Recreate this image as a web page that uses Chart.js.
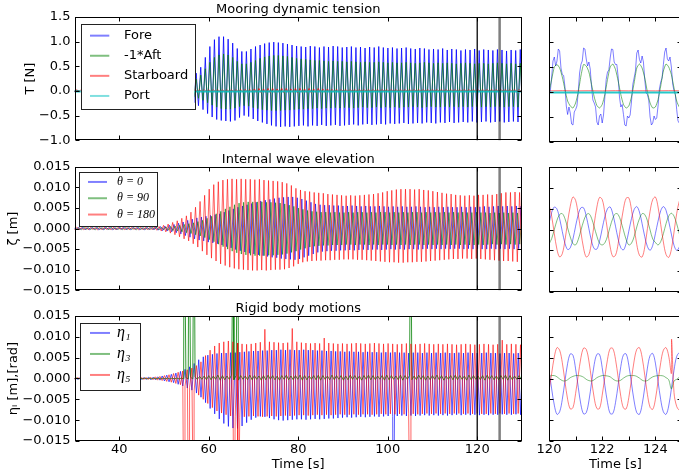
<!DOCTYPE html>
<html><head><meta charset="utf-8">
<script src="https://cdn.jsdelivr.net/npm/chart.js@4/dist/chart.umd.min.js"></script>
<style>
html,body{margin:0;padding:0;background:#fff;overflow:hidden;width:679px;height:476px;position:relative;}
canvas{position:absolute;}
</style></head><body>
<canvas id="t1" width="530" height="152" style="left:0;top:0"></canvas>
<canvas id="t2" width="160" height="152" style="left:530px;top:0"></canvas>
<canvas id="m1" width="530" height="152" style="left:0;top:150px"></canvas>
<canvas id="m2" width="160" height="152" style="left:530px;top:150px"></canvas>
<canvas id="b1" width="530" height="177" style="left:0;top:299px"></canvas>
<canvas id="b2" width="160" height="177" style="left:530px;top:299px"></canvas>
<script>
// ---------------- DATA ----------------
// Left panels: one peak and one trough value per oscillation cycle (period ~1.02 s).
const PERIOD = 1.02;
const CYCLE_START = 29.2;
const leftTimeTicks = [40, 60, 80, 100, 120];
const zoomTimeTicks = [120, 121, 122, 123, 124, 125];
const tensionTicks = [-1.0, -0.5, 0.0, 0.5, 1.0, 1.5];
const smallTicks = [-0.015, -0.010, -0.005, 0.0, 0.005, 0.010, 0.015];
const zoomWindow = [120, 125];

// Mooring dynamic tension [N]
const forePeaks = [
0.02,0.01,0.01,0.01,0.01,0.01,0.01,0.01,0.01,0.01,
0.01,0.01,0.01,0.01,0.01,0.01,0.01,0.01,0.02,0.02,
0.02,0.03,0.05,0.08,0.12,0.18,0.26,0.36,0.48,0.68,
0.90,1.04,1.10,1.10,1.05,0.97,0.86,0.80,0.80,0.85,
0.90,0.93,0.96,0.98,0.99,0.98,0.97,0.95,0.93,0.91,
0.90,0.89,0.91,0.90,0.88,0.90,0.89,0.91,0.90,0.88,
0.89,0.90,0.88,0.89,0.87,0.89,0.88,0.90,0.88,0.87,
0.88,0.86,0.87,0.88,0.86,0.85,0.87,0.86,0.84,0.85,
0.84,0.86,0.83,0.85,0.84,0.82,0.84,0.83,0.85,0.82,
0.84,0.83,0.82,0.84,0.83,0.81,0.83,0.82,0.84,0.82];
const foreTroughs = [
-0.02,-0.01,-0.01,-0.01,-0.01,-0.01,-0.01,-0.01,-0.01,-0.01,
-0.01,-0.01,-0.01,-0.01,-0.01,-0.01,-0.01,-0.01,-0.02,-0.02,
-0.02,-0.03,-0.05,-0.08,-0.12,-0.17,-0.24,-0.30,-0.38,-0.46,
-0.53,-0.58,-0.60,-0.61,-0.62,-0.60,-0.54,-0.50,-0.52,-0.57,
-0.61,-0.64,-0.67,-0.70,-0.72,-0.73,-0.72,-0.73,-0.72,-0.71,
-0.70,-0.72,-0.70,-0.71,-0.69,-0.71,-0.70,-0.69,-0.71,-0.70,
-0.69,-0.68,-0.70,-0.68,-0.67,-0.69,-0.68,-0.67,-0.68,-0.66,
-0.67,-0.66,-0.65,-0.67,-0.66,-0.65,-0.66,-0.64,-0.65,-0.66,
-0.64,-0.65,-0.63,-0.65,-0.64,-0.63,-0.64,-0.62,-0.64,-0.63,
-0.62,-0.64,-0.63,-0.62,-0.64,-0.63,-0.62,-0.63,-0.62,-0.63];
const aftPeaks = [
0.01,0.01,0.01,0.01,0.01,0.01,0.01,0.01,0.01,0.01,
0.01,0.01,0.01,0.01,0.01,0.01,0.01,0.01,0.01,0.01,
0.01,0.02,0.03,0.05,0.08,0.12,0.17,0.24,0.32,0.45,
0.58,0.68,0.73,0.75,0.73,0.68,0.60,0.55,0.55,0.58,
0.62,0.66,0.69,0.71,0.72,0.72,0.71,0.70,0.68,0.66,
0.65,0.64,0.63,0.62,0.62,0.61,0.60,0.61,0.60,0.60,
0.59,0.60,0.59,0.58,0.59,0.58,0.58,0.59,0.58,0.57,
0.58,0.57,0.57,0.58,0.57,0.56,0.57,0.58,0.57,0.56,
0.57,0.56,0.57,0.56,0.55,0.56,0.57,0.56,0.55,0.56,
0.56,0.55,0.56,0.57,0.56,0.55,0.56,0.55,0.56,0.55];
const aftTroughs = [
-0.01,-0.01,-0.01,-0.01,-0.01,-0.01,-0.01,-0.01,-0.01,-0.01,
-0.01,-0.01,-0.01,-0.01,-0.01,-0.01,-0.01,-0.01,-0.01,-0.01,
-0.01,-0.02,-0.03,-0.05,-0.07,-0.09,-0.12,-0.15,-0.19,-0.24,
-0.29,-0.33,-0.36,-0.37,-0.37,-0.35,-0.32,-0.30,-0.31,-0.34,
-0.36,-0.38,-0.39,-0.40,-0.40,-0.40,-0.39,-0.39,-0.38,-0.37,
-0.37,-0.36,-0.36,-0.35,-0.36,-0.35,-0.35,-0.34,-0.35,-0.34,
-0.34,-0.35,-0.34,-0.33,-0.34,-0.34,-0.33,-0.34,-0.33,-0.34,
-0.33,-0.34,-0.33,-0.33,-0.32,-0.33,-0.34,-0.33,-0.32,-0.33,
-0.33,-0.32,-0.33,-0.32,-0.33,-0.32,-0.33,-0.32,-0.32,-0.33,
-0.32,-0.33,-0.32,-0.32,-0.33,-0.32,-0.32,-0.33,-0.32,-0.32];
const starPeaks = [
0.03,0.02,0.02,0.02,0.02,0.02,0.02,0.02,0.02,0.02,
0.02,0.02,0.02,0.02,0.02,0.02,0.02,0.02,0.02,0.02,
0.02,0.02,0.02,0.02,0.02,0.02,0.02,0.02,0.02,0.02,
0.02,0.02,0.02,0.02,0.02,0.02,0.02,0.03,0.03,0.03,
0.04,0.05,0.04,0.05,0.05,0.04,0.05,0.05,0.04,0.05,
0.05,0.04,0.05,0.04,0.05,0.04,0.04,0.03,0.03,0.02,
0.02,0.02,0.02,0.02,0.02,0.02,0.02,0.02,0.02,0.02,
0.02,0.02,0.02,0.02,0.02,0.02,0.02,0.02,0.02,0.02,
0.02,0.02,0.02,0.02,0.02,0.02,0.02,0.02,0.02,0.02,
0.02,0.02,0.02,0.02,0.02,0.02,0.02,0.02,0.02,0.02];
const starTroughs = [
-0.02,-0.01,-0.01,-0.01,-0.01,-0.01,-0.01,-0.01,-0.01,-0.01,
-0.01,-0.01,-0.01,-0.01,-0.01,-0.01,-0.01,-0.01,-0.01,-0.01,
-0.01,-0.01,-0.01,-0.01,-0.01,-0.01,-0.01,-0.01,-0.01,-0.01,
-0.01,-0.01,-0.01,-0.01,-0.01,-0.01,-0.01,-0.02,-0.02,-0.02,
-0.03,-0.04,-0.03,-0.04,-0.03,-0.03,-0.04,-0.03,-0.03,-0.04,
-0.03,-0.03,-0.04,-0.03,-0.03,-0.03,-0.02,-0.02,-0.01,0.00,
0.00,0.00,0.00,0.00,0.00,0.00,0.00,0.00,0.00,0.00,
0.00,0.00,0.00,0.00,0.00,0.00,0.00,0.00,0.00,0.00,
0.00,0.00,0.00,0.00,0.00,0.00,0.00,0.00,0.00,0.00,
0.00,0.00,0.00,0.00,0.00,0.00,0.00,0.00,0.00,0.00];
// Port tension: nearly flat, sampled every 5 s from 30 s
const portValues = [-0.010,-0.010,-0.011,-0.010,-0.012,-0.010,-0.011,-0.010,-0.012,-0.011,-0.010,-0.011,-0.012,-0.010,-0.011,-0.010,-0.012,-0.011,-0.010,-0.011,-0.010];

// Internal wave elevation [m]
const theta0Peaks = [
0.0002,0.0003,0.0003,0.0002,0.0003,0.0003,0.0002,0.0003,0.0003,0.0002,
0.0003,0.0003,0.0002,0.0003,0.0003,0.0002,0.0003,0.0003,0.0004,0.0005,
0.0006,0.0008,0.0010,0.0013,0.0016,0.0020,0.0023,0.0026,0.0028,0.0030,
0.0032,0.0034,0.0036,0.0040,0.0044,0.0048,0.0052,0.0055,0.0058,0.0061,
0.0064,0.0067,0.0069,0.0071,0.0073,0.0075,0.0076,0.0077,0.0077,0.0075,
0.0072,0.0068,0.0064,0.0060,0.0058,0.0057,0.0057,0.0056,0.0056,0.0055,
0.0055,0.0056,0.0055,0.0054,0.0055,0.0054,0.0054,0.0055,0.0054,0.0053,
0.0054,0.0053,0.0054,0.0053,0.0053,0.0054,0.0053,0.0052,0.0053,0.0052,
0.0053,0.0052,0.0053,0.0052,0.0052,0.0053,0.0052,0.0053,0.0052,0.0053,
0.0054,0.0053,0.0054,0.0055,0.0054,0.0055,0.0054,0.0055,0.0054,0.0055];
const theta0Troughs = [
-0.0003,-0.0002,-0.0003,-0.0003,-0.0002,-0.0003,-0.0003,-0.0002,-0.0003,-0.0003,
-0.0002,-0.0003,-0.0003,-0.0002,-0.0003,-0.0003,-0.0002,-0.0003,-0.0004,-0.0005,
-0.0006,-0.0008,-0.0010,-0.0013,-0.0017,-0.0021,-0.0025,-0.0028,-0.0030,-0.0033,
-0.0035,-0.0037,-0.0040,-0.0044,-0.0047,-0.0051,-0.0054,-0.0057,-0.0060,-0.0062,
-0.0064,-0.0066,-0.0068,-0.0070,-0.0071,-0.0073,-0.0074,-0.0075,-0.0076,-0.0074,
-0.0070,-0.0066,-0.0062,-0.0058,-0.0056,-0.0055,-0.0054,-0.0054,-0.0053,-0.0053,
-0.0052,-0.0053,-0.0052,-0.0051,-0.0052,-0.0051,-0.0051,-0.0052,-0.0051,-0.0050,
-0.0051,-0.0050,-0.0051,-0.0050,-0.0050,-0.0051,-0.0050,-0.0049,-0.0050,-0.0049,
-0.0050,-0.0049,-0.0050,-0.0049,-0.0049,-0.0050,-0.0049,-0.0050,-0.0049,-0.0050,
-0.0050,-0.0049,-0.0050,-0.0049,-0.0050,-0.0049,-0.0050,-0.0049,-0.0050,-0.0049];
const theta90Peaks = [
0.0002,0.0002,0.0003,0.0002,0.0002,0.0003,0.0002,0.0002,0.0003,0.0002,
0.0002,0.0003,0.0002,0.0002,0.0003,0.0002,0.0002,0.0003,0.0003,0.0003,
0.0004,0.0005,0.0006,0.0008,0.0010,0.0012,0.0014,0.0017,0.0020,0.0025,
0.0030,0.0036,0.0042,0.0048,0.0053,0.0058,0.0062,0.0064,0.0065,0.0065,
0.0065,0.0065,0.0064,0.0064,0.0063,0.0062,0.0060,0.0057,0.0054,0.0050,
0.0047,0.0044,0.0042,0.0041,0.0040,0.0040,0.0039,0.0040,0.0039,0.0039,
0.0040,0.0039,0.0040,0.0040,0.0039,0.0040,0.0039,0.0040,0.0040,0.0039,
0.0040,0.0039,0.0040,0.0039,0.0040,0.0040,0.0039,0.0040,0.0039,0.0040,
0.0039,0.0040,0.0039,0.0040,0.0039,0.0040,0.0039,0.0039,0.0040,0.0039,
0.0039,0.0038,0.0039,0.0038,0.0039,0.0038,0.0039,0.0038,0.0039,0.0038];
const theta90Troughs = [
-0.0002,-0.0003,-0.0002,-0.0002,-0.0003,-0.0002,-0.0002,-0.0003,-0.0002,-0.0002,
-0.0003,-0.0002,-0.0002,-0.0003,-0.0002,-0.0002,-0.0003,-0.0002,-0.0003,-0.0003,
-0.0004,-0.0005,-0.0006,-0.0008,-0.0010,-0.0012,-0.0015,-0.0018,-0.0022,-0.0027,
-0.0032,-0.0038,-0.0044,-0.0050,-0.0055,-0.0059,-0.0062,-0.0064,-0.0065,-0.0066,
-0.0066,-0.0066,-0.0065,-0.0065,-0.0064,-0.0063,-0.0061,-0.0058,-0.0055,-0.0051,
-0.0048,-0.0045,-0.0043,-0.0042,-0.0041,-0.0041,-0.0040,-0.0040,-0.0040,-0.0039,
-0.0039,-0.0040,-0.0039,-0.0039,-0.0040,-0.0039,-0.0040,-0.0039,-0.0039,-0.0040,
-0.0039,-0.0040,-0.0039,-0.0040,-0.0039,-0.0039,-0.0040,-0.0039,-0.0040,-0.0039,
-0.0040,-0.0039,-0.0040,-0.0039,-0.0040,-0.0039,-0.0040,-0.0040,-0.0039,-0.0040,
-0.0039,-0.0038,-0.0039,-0.0038,-0.0039,-0.0038,-0.0039,-0.0038,-0.0039,-0.0038];
const theta180Peaks = [
0.0003,0.0003,0.0002,0.0003,0.0003,0.0002,0.0003,0.0003,0.0002,0.0003,
0.0003,0.0002,0.0003,0.0003,0.0002,0.0003,0.0003,0.0003,0.0004,0.0005,
0.0008,0.0011,0.0015,0.0019,0.0025,0.0031,0.0040,0.0052,0.0066,0.0081,
0.0096,0.0107,0.0114,0.0118,0.0120,0.0121,0.0120,0.0121,0.0120,0.0120,
0.0119,0.0120,0.0118,0.0117,0.0116,0.0115,0.0113,0.0110,0.0105,0.0098,
0.0094,0.0091,0.0090,0.0088,0.0087,0.0086,0.0084,0.0083,0.0082,0.0081,
0.0080,0.0081,0.0080,0.0081,0.0082,0.0083,0.0084,0.0086,0.0088,0.0091,
0.0093,0.0095,0.0096,0.0096,0.0096,0.0095,0.0096,0.0094,0.0093,0.0091,
0.0089,0.0087,0.0085,0.0084,0.0082,0.0081,0.0080,0.0081,0.0080,0.0082,
0.0082,0.0083,0.0082,0.0084,0.0086,0.0088,0.0088,0.0089,0.0088,0.0089];
const theta180Troughs = [
-0.0003,-0.0002,-0.0003,-0.0003,-0.0002,-0.0003,-0.0003,-0.0002,-0.0003,-0.0003,
-0.0002,-0.0003,-0.0003,-0.0002,-0.0003,-0.0003,-0.0003,-0.0003,-0.0004,-0.0006,
-0.0008,-0.0011,-0.0015,-0.0020,-0.0025,-0.0030,-0.0037,-0.0045,-0.0055,-0.0064,
-0.0072,-0.0079,-0.0086,-0.0090,-0.0094,-0.0097,-0.0099,-0.0100,-0.0101,-0.0102,
-0.0102,-0.0101,-0.0102,-0.0101,-0.0100,-0.0100,-0.0099,-0.0096,-0.0092,-0.0086,
-0.0082,-0.0080,-0.0079,-0.0078,-0.0078,-0.0077,-0.0077,-0.0076,-0.0076,-0.0075,
-0.0075,-0.0075,-0.0076,-0.0076,-0.0077,-0.0078,-0.0079,-0.0080,-0.0081,-0.0082,
-0.0082,-0.0083,-0.0083,-0.0082,-0.0082,-0.0081,-0.0081,-0.0080,-0.0079,-0.0078,
-0.0077,-0.0076,-0.0075,-0.0074,-0.0074,-0.0073,-0.0073,-0.0074,-0.0073,-0.0074,
-0.0075,-0.0076,-0.0077,-0.0078,-0.0079,-0.0079,-0.0080,-0.0081,-0.0080,-0.0081];

// Rigid body motions [m],[rad]
const eta1Peaks = [
0.0002,0.0001,0.0002,0.0002,0.0001,0.0002,0.0002,0.0001,0.0002,0.0002,
0.0001,0.0002,0.0002,0.0001,0.0002,0.0002,0.0002,0.0003,0.0003,0.0004,
0.0006,0.0008,0.0010,0.0013,0.0017,0.0022,0.0028,0.0036,0.0045,0.0052,
0.0056,0.0058,0.0060,0.0061,0.0061,0.0062,0.0062,0.0063,0.0064,0.0065,
0.0066,0.0066,0.0067,0.0067,0.0068,0.0068,0.0069,0.0068,0.0069,0.0068,
0.0068,0.0069,0.0068,0.0068,0.0067,0.0067,0.0066,0.0066,0.0065,0.0065,
0.0064,0.0065,0.0064,0.0064,0.0063,0.0064,0.0063,0.0063,0.0062,0.0063,
0.0062,0.0063,0.0062,0.0062,0.0061,0.0062,0.0062,0.0061,0.0062,0.0061,
0.0062,0.0061,0.0062,0.0061,0.0061,0.0062,0.0061,0.0062,0.0061,0.0061,
0.0061,0.0062,0.0061,0.0061,0.0060,0.0061,0.0061,0.0060,0.0061,0.0060];
const eta1Troughs = [
-0.0002,-0.0002,-0.0001,-0.0002,-0.0002,-0.0001,-0.0002,-0.0002,-0.0001,-0.0002,
-0.0002,-0.0001,-0.0002,-0.0002,-0.0001,-0.0002,-0.0002,-0.0003,-0.0003,-0.0004,
-0.0006,-0.0008,-0.0010,-0.0014,-0.0018,-0.0023,-0.0028,-0.0035,-0.0045,-0.0058,
-0.0072,-0.0085,-0.0097,-0.0108,-0.0115,-0.0119,-0.0120,-0.0114,-0.0106,-0.0099,
-0.0094,-0.0091,-0.0092,-0.0095,-0.0098,-0.0100,-0.0101,-0.0100,-0.0099,-0.0098,
-0.0098,-0.0099,-0.0098,-0.0097,-0.0098,-0.0097,-0.0096,-0.0096,-0.0095,-0.0094,
-0.0093,-0.0094,-0.0093,-0.0092,-0.0093,-0.0092,-0.0091,-0.0092,-0.0091,-0.0090,
-0.0091,-0.0090,-0.0089,-0.0090,-0.0089,-0.0090,-0.0089,-0.0088,-0.0089,-0.0088,
-0.0089,-0.0088,-0.0089,-0.0088,-0.0087,-0.0088,-0.0087,-0.0088,-0.0087,-0.0088,
-0.0087,-0.0088,-0.0087,-0.0087,-0.0086,-0.0087,-0.0087,-0.0086,-0.0087,-0.0086];
const eta3Peaks = [
0.0001,0.0001,0.0001,0.0001,0.0001,0.0001,0.0001,0.0001,0.0001,0.0001,
0.0001,0.0001,0.0001,0.0001,0.0001,0.0001,0.0001,0.0001,0.0001,0.0001,
0.0001,0.0001,0.0001,0.0001,0.0001,0.0002,0.0003,0.0004,0.0005,0.0006,
0.0007,0.0006,0.0008,0.0007,0.0006,0.0008,0.0007,0.0007,0.0006,0.0008,
0.0007,0.0006,0.0007,0.0008,0.0007,0.0006,0.0007,0.0008,0.0006,0.0007,
0.0008,0.0007,0.0006,0.0007,0.0008,0.0007,0.0006,0.0008,0.0007,0.0007,
0.0006,0.0008,0.0007,0.0006,0.0007,0.0008,0.0007,0.0006,0.0007,0.0008,
0.0007,0.0006,0.0008,0.0007,0.0007,0.0006,0.0008,0.0007,0.0006,0.0007,
0.0008,0.0007,0.0006,0.0007,0.0008,0.0007,0.0006,0.0008,0.0007,0.0006,
0.0007,0.0008,0.0007,0.0006,0.0007,0.0008,0.0007,0.0006,0.0007,0.0008];
const eta3Troughs = [
-0.0001,-0.0001,-0.0001,-0.0001,-0.0001,-0.0001,-0.0001,-0.0001,-0.0001,-0.0001,
-0.0001,-0.0001,-0.0001,-0.0001,-0.0001,-0.0001,-0.0001,-0.0001,-0.0001,-0.0001,
-0.0001,-0.0001,-0.0001,-0.0001,-0.0001,-0.0001,-0.0001,-0.0002,-0.0002,-0.0003,
-0.0003,-0.0002,-0.0004,-0.0003,-0.0002,-0.0003,-0.0004,-0.0002,-0.0003,-0.0003,
-0.0002,-0.0004,-0.0003,-0.0002,-0.0003,-0.0004,-0.0002,-0.0003,-0.0003,-0.0002,
-0.0004,-0.0003,-0.0002,-0.0003,-0.0004,-0.0002,-0.0003,-0.0003,-0.0002,-0.0004,
-0.0003,-0.0002,-0.0003,-0.0004,-0.0002,-0.0003,-0.0003,-0.0002,-0.0004,-0.0003,
-0.0002,-0.0003,-0.0004,-0.0002,-0.0003,-0.0003,-0.0002,-0.0004,-0.0003,-0.0002,
-0.0003,-0.0004,-0.0002,-0.0003,-0.0003,-0.0002,-0.0004,-0.0003,-0.0002,-0.0003,
-0.0004,-0.0002,-0.0003,-0.0003,-0.0002,-0.0004,-0.0003,-0.0002,-0.0003,-0.0004];
const eta5Peaks = [
0.0002,0.0002,0.0001,0.0002,0.0002,0.0001,0.0002,0.0002,0.0001,0.0002,
0.0002,0.0001,0.0002,0.0002,0.0001,0.0002,0.0002,0.0003,0.0004,0.0005,
0.0007,0.0009,0.0012,0.0015,0.0018,0.0021,0.0025,0.0031,0.0040,0.0055,
0.0068,0.0078,0.0085,0.0088,0.0090,0.0088,0.0085,0.0083,0.0082,0.0083,
0.0085,0.0087,0.0118,0.0088,0.0087,0.0086,0.0085,0.0086,0.0120,0.0088,
0.0086,0.0085,0.0084,0.0085,0.0084,0.0097,0.0085,0.0084,0.0083,0.0084,
0.0083,0.0084,0.0085,0.0084,0.0083,0.0084,0.0085,0.0084,0.0083,0.0084,
0.0083,0.0082,0.0083,0.0084,0.0083,0.0082,0.0083,0.0084,0.0083,0.0082,
0.0083,0.0082,0.0083,0.0082,0.0081,0.0082,0.0083,0.0082,0.0081,0.0082,
0.0083,0.0082,0.0081,0.0082,0.0092,0.0082,0.0083,0.0082,0.0081,0.0082];
const eta5Troughs = [
-0.0002,-0.0001,-0.0002,-0.0002,-0.0001,-0.0002,-0.0002,-0.0001,-0.0002,-0.0002,
-0.0001,-0.0002,-0.0002,-0.0001,-0.0002,-0.0002,-0.0002,-0.0003,-0.0004,-0.0005,
-0.0007,-0.0009,-0.0012,-0.0015,-0.0018,-0.0022,-0.0030,-0.0040,-0.0050,-0.0060,
-0.0070,-0.0078,-0.0083,-0.0087,-0.0090,-0.0092,-0.0093,-0.0092,-0.0091,-0.0090,
-0.0091,-0.0092,-0.0091,-0.0090,-0.0091,-0.0090,-0.0089,-0.0090,-0.0089,-0.0088,
-0.0088,-0.0089,-0.0088,-0.0087,-0.0088,-0.0087,-0.0088,-0.0087,-0.0086,-0.0087,
-0.0087,-0.0086,-0.0087,-0.0086,-0.0086,-0.0087,-0.0086,-0.0085,-0.0086,-0.0085,
-0.0086,-0.0085,-0.0086,-0.0085,-0.0085,-0.0086,-0.0085,-0.0084,-0.0085,-0.0084,
-0.0085,-0.0084,-0.0085,-0.0084,-0.0084,-0.0085,-0.0084,-0.0085,-0.0084,-0.0085,
-0.0085,-0.0084,-0.0085,-0.0084,-0.0085,-0.0084,-0.0085,-0.0084,-0.0085,-0.0084];
// glitch spikes (time [s], value) that leave the axis range
const eta1SpikeTimes = [101.2];
const eta1SpikeValues = [-0.05];
const eta3SpikeTimes = [54.5, 55.6, 56.7, 65.6, 66.5, 105.1];
const eta3SpikeValues = [0.05, 0.05, 0.05, 0.05, 0.05, 0.05];
const eta5SpikeTimes = [54.5, 55.6, 56.7, 65.6, 66.5, 105.1];
const eta5SpikeValues = [-0.05, -0.05, -0.05, -0.05, -0.05, -0.05];

// Right panels: samples from 120.0 s to 125.0 s
const ZOOM_START = 120.0, ZOOM_STEP = 0.1, FORE_STEP = 0.05;
const foreZoom = [
-0.05,0.02,0.30,0.62,0.70,0.52,0.62,0.86,0.82,0.48,
0.35,0.33,0.10,-0.28,-0.45,-0.30,-0.42,-0.64,-0.66,-0.40,
-0.35,-0.28,0.00,0.38,0.55,0.62,0.88,0.86,0.66,0.52,
0.60,0.46,0.10,-0.16,-0.22,-0.30,-0.60,-0.66,-0.48,-0.44,
-0.62,-0.46,-0.10,0.25,0.40,0.44,0.68,0.86,0.85,0.60,
0.55,0.55,0.30,-0.10,-0.30,-0.25,-0.45,-0.66,-0.68,-0.48,
-0.52,-0.46,-0.20,0.15,0.28,0.42,0.78,0.84,0.65,0.58,
0.72,0.60,0.25,-0.02,-0.05,-0.16,-0.50,-0.66,-0.62,-0.48,
-0.55,-0.52,-0.28,0.06,0.20,0.28,0.55,0.80,0.88,0.66,
0.62,0.70,0.50,0.16,0.02,-0.05,-0.35,-0.58,-0.62,-0.42,-0.45];
const aftZoom = [
0.00,0.25,0.50,0.55,0.48,0.30,0.05,-0.18,-0.28,-0.32,
-0.22,0.00,0.32,0.55,0.52,0.40,0.15,-0.10,-0.27,-0.32,
-0.25,-0.05,0.25,0.50,0.56,0.45,0.22,-0.05,-0.25,-0.32,
-0.28,-0.10,0.18,0.48,0.56,0.48,0.28,0.00,-0.22,-0.32,
-0.30,-0.15,0.12,0.42,0.56,0.50,0.35,0.08,-0.18,-0.30,-0.30];
// Starboard / Port in the zoom: every 0.5 s
const starZoom = [0.022,0.026,0.022,0.025,0.022,0.026,0.023,0.025,0.022,0.026,0.023];
const portZoom = [-0.010,-0.012,-0.010,-0.011,-0.010,-0.012,-0.010,-0.011,-0.010,-0.012,-0.010];
const theta0Zoom = [
0.0014,0.0041,0.0054,0.0049,0.0026,-0.0005,-0.0033,-0.0048,-0.0044,-0.0023,
0.0008,0.0036,0.0052,0.0052,0.0032,0.0002,-0.0028,-0.0046,-0.0047,-0.0028,
0.0002,0.0031,0.0050,0.0054,0.0037,0.0008,-0.0023,-0.0044,-0.0049,-0.0033,
-0.0004,0.0026,0.0048,0.0055,0.0042,0.0014,-0.0017,-0.0041,-0.0050,-0.0038,
-0.0010,0.0020,0.0045,0.0055,0.0046,0.0020,-0.0011,-0.0038,-0.0050,-0.0042,-0.0016];
const theta90Zoom = [
-0.0035,-0.0022,0.0000,0.0022,0.0036,0.0038,0.0026,0.0004,-0.0018,-0.0034,
-0.0037,-0.0024,-0.0002,0.0020,0.0035,0.0038,0.0027,0.0006,-0.0016,-0.0033,
-0.0037,-0.0032,-0.0016,0.0007,0.0027,0.0038,0.0036,0.0020,-0.0002,-0.0024,
-0.0037,-0.0033,-0.0017,0.0006,0.0026,0.0038,0.0036,0.0021,-0.0001,-0.0023,
-0.0031,-0.0037,-0.0029,-0.0010,0.0014,0.0032,0.0039,0.0032,0.0014,-0.0010,-0.0029];
const theta180Zoom = [
0.0060,0.0032,-0.0010,-0.0048,-0.0066,-0.0058,-0.0026,0.0018,0.0056,0.0078,
0.0070,0.0036,-0.0006,-0.0045,-0.0066,-0.0060,-0.0030,0.0014,0.0054,0.0077,
0.0072,0.0040,-0.0002,-0.0042,-0.0065,-0.0062,-0.0034,0.0010,0.0050,0.0075,
0.0076,0.0048,0.0006,-0.0036,-0.0062,-0.0066,-0.0042,0.0002,0.0044,0.0072,
0.0078,0.0054,0.0012,-0.0030,-0.0060,-0.0067,-0.0048,-0.0006,0.0038,0.0068,0.0079];
const eta1Zoom = [
0.0020,-0.0025,-0.0064,-0.0086,-0.0080,-0.0050,-0.0006,0.0036,0.0059,0.0056,
0.0023,-0.0021,-0.0063,-0.0085,-0.0082,-0.0054,-0.0010,0.0034,0.0058,0.0058,
0.0026,-0.0017,-0.0058,-0.0084,-0.0084,-0.0058,-0.0015,0.0029,0.0057,0.0059,
0.0032,-0.0011,-0.0054,-0.0082,-0.0086,-0.0063,-0.0021,0.0025,0.0055,0.0060,
0.0037,-0.0007,-0.0051,-0.0080,-0.0086,-0.0066,-0.0025,0.0020,0.0053,0.0061,0.0040];
const eta3Zoom = [
0.0005,0.0007,0.0007,0.0004,-0.0001,-0.0005,-0.0006,-0.0003,0.0002,0.0005,
0.0007,0.0007,0.0006,0.0003,-0.0002,-0.0005,-0.0006,-0.0003,0.0002,0.0005,
0.0007,0.0007,0.0006,0.0004,-0.0001,-0.0005,-0.0006,-0.0004,0.0001,0.0005,
0.0007,0.0007,0.0007,0.0005,0.0001,-0.0004,-0.0006,-0.0005,0.0000,0.0004,
0.0006,0.0007,0.0007,0.0006,0.0002,-0.0003,-0.0025,-0.0006,-0.0002,0.0003,0.0006];
const eta5Zoom = [
-0.0030,0.0012,0.0052,0.0074,0.0068,0.0038,-0.0007,-0.0050,-0.0073,-0.0070,
-0.0036,0.0008,0.0050,0.0073,0.0070,0.0042,-0.0003,-0.0047,-0.0072,-0.0072,
-0.0040,0.0004,0.0046,0.0072,0.0072,0.0046,0.0002,-0.0043,-0.0071,-0.0073,
-0.0046,-0.0002,0.0042,0.0070,0.0074,0.0051,0.0008,-0.0038,-0.0069,-0.0074,
-0.0050,-0.0006,0.0038,0.0068,0.0074,0.0054,0.0012,-0.0034,-0.0067,-0.0075,-0.0053];
const eta5ZoomSpikeTimes = [124.61];
const eta5ZoomSpikeValues = [0.0094];

// ---------------- BUILDERS ----------------
function cycles(peaks, troughs, phase, spikeT, spikeV) {
  const pts = [];
  for (let k = 0; k < peaks.length; k++) {
    const t = CYCLE_START + phase + k * PERIOD;
    pts.push({ x: t, y: peaks[k] });
    pts.push({ x: t + PERIOD / 2, y: troughs[k] });
  }
  if (spikeT) { spikeT.forEach((t, i) => pts.push({ x: t, y: spikeV[i] })); pts.sort((a, b) => a.x - b.x); }
  return pts;
}
function sampled(vals, start, step, spikeT, spikeV) {
  const pts = vals.map((v, i) => ({ x: start + i * step, y: v }));
  if (spikeT) { spikeT.forEach((t, i) => pts.push({ x: t, y: spikeV[i] })); pts.sort((a, b) => a.x - b.x); }
  return pts;
}
const FONT = "'DejaVu Sans', sans-serif";
const C = {
  blue: a => `rgba(0,0,255,${a})`, green: a => `rgba(0,128,0,${a})`,
  red: a => `rgba(255,0,0,${a})`, cyan: a => `rgba(0,191,191,${a})`
};
const LA = 0.6, LEG = 0.5;
function ds(label, data, col, opts) {
  opts = opts || {};
  return { label, data, borderColor: C[col](opts.alpha || LA), borderWidth: opts.width || 1,
    pointRadius: 0, tension: opts.tension || 0, fill: false, legendColor: C[col](LEG) };
}
function withOrder(list) { list.forEach((d, i) => d.order = list.length - i); return list; }
const fmt = d => v => { const s = Math.abs(v) < 1e-12 ? (0).toFixed(d) : Number(v).toFixed(d); return s.replace('-', '\u2212'); };

const deco = {
  id: 'deco',
  afterDatasetsDraw(chart, args, o) {
    const { ctx, chartArea: a, scales } = chart;
    ctx.save();
    (o.markers || []).forEach((t, i) => {
      const px = scales.x.getPixelForValue(t);
      ctx.strokeStyle = o.markerColors[i]; ctx.lineWidth = o.markerWidths[i];
      ctx.beginPath(); ctx.moveTo(px, a.top); ctx.lineTo(px, a.bottom); ctx.stroke();
    });
    const L = Math.round(a.left) + 0.5, R = Math.round(a.right) - 0.5, T = Math.round(a.top) + 0.5, B = Math.round(a.bottom) - 0.5;
    ctx.strokeStyle = '#000'; ctx.lineWidth = 1;
    ctx.strokeRect(L, T, R - L, B - T);
    const len = 4;
    ctx.beginPath();
    scales.x.ticks.forEach(tk => { const px = Math.round(scales.x.getPixelForValue(tk.value)) + 0.5; ctx.moveTo(px, B); ctx.lineTo(px, B - len); ctx.moveTo(px, T); ctx.lineTo(px, T + len); });
    scales.y.ticks.forEach(tk => { const py = Math.round(scales.y.getPixelForValue(tk.value)) + 0.5; ctx.moveTo(L, py); ctx.lineTo(L + len, py); ctx.moveTo(R, py); ctx.lineTo(R - len, py); });
    ctx.stroke();
    const lg = o.legend;
    if (lg) {
      const x0 = a.left + lg.x, y0 = a.top + lg.y;
      ctx.fillStyle = '#fff'; ctx.fillRect(x0, y0, lg.w, lg.h);
      ctx.strokeStyle = '#222'; ctx.lineWidth = 1;
      ctx.strokeRect(Math.round(x0) + 0.5, Math.round(y0) + 0.5, Math.round(lg.w), Math.round(lg.h));
      chart.data.datasets.forEach((d, i) => {
        const yy = y0 + lg.first + i * lg.gap;
        ctx.strokeStyle = d.legendColor; ctx.lineWidth = 2;
        ctx.beginPath(); ctx.moveTo(x0 + lg.lx0, yy); ctx.lineTo(x0 + lg.lx1, yy); ctx.stroke();
        ctx.fillStyle = '#000'; ctx.font = lg.font; ctx.textBaseline = 'middle'; ctx.textAlign = 'left';
        ctx.fillText(d.label, x0 + lg.tx, yy);
      });
    }
    ctx.restore();
  }
};

function panel(id, o) {
  return new Chart(document.getElementById(id), {
    type: 'line',
    data: { datasets: withOrder(o.datasets) },
    options: {
      responsive: false, animation: false, events: [],
      layout: { padding: { top: o.title ? 0 : 17, right: 8, bottom: 0, left: 0 } },
      plugins: {
        legend: { display: false }, tooltip: { enabled: false },
        title: o.title ? { display: true, text: o.title, fullSize: false, color: '#000',
          font: { family: FONT, size: 13, lineHeight: 1.15, weight: 'normal' }, padding: { top: 2, bottom: 0 } } : { display: false },
        deco: { markers: o.markers || [], markerColors: ['rgba(0,0,0,0.85)', 'rgba(0,0,0,0.5)'], markerWidths: [1.5, 2.5], legend: o.legend || null }
      },
      scales: {
        x: {
          type: 'linear', min: o.xMin, max: o.xMax,
          afterBuildTicks: s => { s.ticks = o.xTicks.map(v => ({ value: v })); },
          afterFit: s => { s.height = o.xHeight; },
          grid: { display: false, drawTicks: false }, border: { display: false },
          ticks: { display: !!o.xLabels, autoSkip: false, maxRotation: 0, padding: 1, color: '#000',
            font: { family: FONT, size: 13 }, callback: o.xFmt || (v => String(v)) },
          title: { display: !!o.xLabels, text: 'Time [s]', color: '#000', font: { family: FONT, size: 13, lineHeight: 1.2 }, padding: { top: 0, bottom: 4 } }
        },
        y: {
          type: 'linear', min: o.yMin, max: o.yMax,
          afterBuildTicks: s => { s.ticks = o.yTicks.map(v => ({ value: v })); },
          afterFit: s => { s.width = o.yWidth; },
          grid: { display: false, drawTicks: false }, border: { display: false },
          ticks: { display: !!o.yLabels, padding: 4, color: '#000', font: { family: FONT, size: 13 }, callback: o.yFmt },
          title: o.yTitle ? { display: true, text: o.yTitle, color: '#000', font: { family: FONT, size: 13, lineHeight: 1.2 }, padding: { top: o.yTitlePad, bottom: 0 } } : { display: false }
        }
      }
    },
    plugins: [deco]
  });
}

const zoomFmt = v => (v % 2 === 0 ? String(v) : '');
const leftBase = { xMin: 30, xMax: 130, xTicks: leftTimeTicks, yWidth: 74.5, yLabels: true, markers: zoomWindow };
const rightBase = { xMin: 120, xMax: 125, xTicks: zoomTimeTicks, yWidth: 19, yLabels: false, xFmt: zoomFmt };

// Row 1: tension
panel('t1', Object.assign({}, leftBase, {
  title: 'Mooring dynamic tension', xHeight: 10, yMin: -1.0, yMax: 1.5, yTicks: tensionTicks, yFmt: fmt(1),
  yTitle: 'T [N]', yTitlePad: 23,
  legend: { x: 6.2, y: 7.3, w: 113.6, h: 84.7, first: 11.4, gap: 20.1, lx0: 9.3, lx1: 28.6, tx: 43.3, font: "13px 'DejaVu Sans'" },
  datasets: [
    ds('Fore', cycles(forePeaks, foreTroughs, 0.45), 'blue', { alpha: 0.8 }),
    ds('-1*Aft', cycles(aftPeaks, aftTroughs, 0.45), 'green', { alpha: 0.7 }),
    ds('Starboard', cycles(starPeaks, starTroughs, 0.2), 'red', { alpha: 0.7 }),
    ds('Port', sampled(portValues, 30, 5), 'cyan', { width: 2, alpha: 0.85 })
  ]
}));
panel('t2', Object.assign({}, rightBase, {
  xHeight: 10, yMin: -1.0, yMax: 1.5, yTicks: tensionTicks,
  datasets: [
    ds('Fore', sampled(foreZoom, ZOOM_START, FORE_STEP), 'blue', { alpha: 0.5 }),
    ds('-1*Aft', sampled(aftZoom, ZOOM_START, ZOOM_STEP), 'green', { alpha: 0.55, tension: 0.2 }),
    ds('Starboard', sampled(starZoom, ZOOM_START, 0.5), 'red', { alpha: 0.6 }),
    ds('Port', sampled(portZoom, ZOOM_START, 0.5), 'cyan', { width: 2, alpha: 0.85 })
  ]
}));
// Row 2: internal wave elevation
panel('m1', Object.assign({}, leftBase, {
  title: 'Internal wave elevation', xHeight: 10, yMin: -0.015, yMax: 0.015, yTicks: smallTicks, yFmt: fmt(3),
  yTitle: '\u03b6 [m]', yTitlePad: 6,
  legend: { x: 4.8, y: 5.3, w: 78, h: 53.7, first: 9.7, gap: 16.3, lx0: 8.7, lx1: 27.7, tx: 37.7, font: "italic 12px 'Liberation Serif'" },
  datasets: [
    ds('\u03b8 = 0', cycles(theta0Peaks, theta0Troughs, 0.6), 'blue', { alpha: 0.65 }),
    ds('\u03b8 = 90', cycles(theta90Peaks, theta90Troughs, 0.85), 'green', { alpha: 0.6 }),
    ds('\u03b8 = 180', cycles(theta180Peaks, theta180Troughs, 0.3), 'red', { alpha: 0.6 })
  ]
}));
panel('m2', Object.assign({}, rightBase, {
  xHeight: 10, yMin: -0.015, yMax: 0.015, yTicks: smallTicks,
  datasets: [
    ds('\u03b8 = 0', sampled(theta0Zoom, ZOOM_START, ZOOM_STEP), 'blue', { alpha: 0.5, tension: 0.35 }),
    ds('\u03b8 = 90', sampled(theta90Zoom, ZOOM_START, ZOOM_STEP), 'green', { alpha: 0.5, tension: 0.35 }),
    ds('\u03b8 = 180', sampled(theta180Zoom, ZOOM_START, ZOOM_STEP), 'red', { alpha: 0.5, tension: 0.35 })
  ]
}));
// Row 3: rigid body motions
panel('b1', Object.assign({}, leftBase, {
  title: 'Rigid body motions', xHeight: 35, xLabels: true, yMin: -0.015, yMax: 0.015, yTicks: smallTicks, yFmt: fmt(3),
  yTitle: '\u03b7\u1d62 [m],[rad]', yTitlePad: 6,
  legend: { x: 5.8, y: 6.7, w: 59.7, h: 66.6, first: 10.3, gap: 21, lx0: 9.7, lx1: 29.7, tx: 36.7, font: "italic 16px 'Liberation Serif'" },
  datasets: [
    ds('\u03b7\u2081', cycles(eta1Peaks, eta1Troughs, 0.0, eta1SpikeTimes, eta1SpikeValues), 'blue', { alpha: 0.65 }),
    ds('\u03b7\u2083', cycles(eta3Peaks, eta3Troughs, 0.2, eta3SpikeTimes, eta3SpikeValues), 'green', { alpha: 0.8 }),
    ds('\u03b7\u2085', cycles(eta5Peaks, eta5Troughs, 0.5, eta5SpikeTimes, eta5SpikeValues), 'red', { alpha: 0.6 })
  ]
}));
panel('b2', Object.assign({}, rightBase, {
  xHeight: 35, xLabels: true, yMin: -0.015, yMax: 0.015, yTicks: smallTicks,
  datasets: [
    ds('\u03b7\u2081', sampled(eta1Zoom, ZOOM_START, ZOOM_STEP), 'blue', { alpha: 0.5, tension: 0.35 }),
    ds('\u03b7\u2083', sampled(eta3Zoom, ZOOM_START, ZOOM_STEP), 'green', { alpha: 0.5, tension: 0.35 }),
    ds('\u03b7\u2085', sampled(eta5Zoom, ZOOM_START, ZOOM_STEP, eta5ZoomSpikeTimes, eta5ZoomSpikeValues), 'red', { alpha: 0.5, tension: 0.35 })
  ]
}));
</script>
</body></html>
